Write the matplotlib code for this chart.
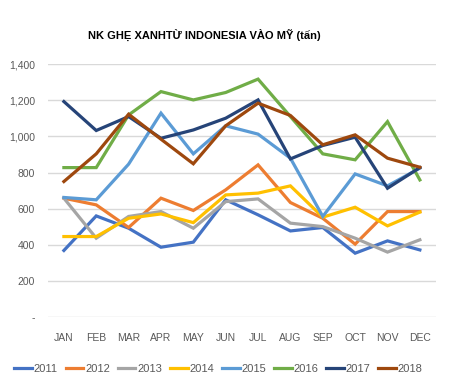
import matplotlib
matplotlib.use("Agg")
import matplotlib.pyplot as plt
from matplotlib.ticker import FuncFormatter

months = ["JAN", "FEB", "MAR", "APR", "MAY", "JUN", "JUL", "AUG", "SEP", "OCT", "NOV", "DEC"]
y2011 = [370, 561, 493, 388, 416, 650, 567, 478, 497, 355, 423, 373]
y2012 = [659, 622, 497, 659, 591, 705, 843, 635, 548, 405, 585, 585]
y2013 = [659, 438, 558, 585, 493, 640, 655, 521, 502, 438, 361, 429]
y2014 = [447, 447, 548, 572, 524, 677, 687, 727, 554, 609, 506, 582]
y2015 = [663, 650, 847, 1129, 904, 1059, 1013, 880, 558, 793, 727, 825]
y2016 = [828, 828, 1119, 1248, 1202, 1243, 1317, 1110, 904, 871, 1082, 760]
y2017 = [1193, 1033, 1110, 990, 1036, 1101, 1202, 876, 950, 996, 714, 828]
y2018 = [751, 904, 1123, 985, 849, 1059, 1184, 1116, 954, 1009, 880, 830]

series = [("2011", y2011, "#4472C4"), ("2012", y2012, "#ED7D31"),
          ("2013", y2013, "#A5A5A5"), ("2014", y2014, "#FFC000"),
          ("2015", y2015, "#5B9BD5"), ("2016", y2016, "#70AD47"),
          ("2017", y2017, "#264478"), ("2018", y2018, "#9E480E")]

plt.rcParams['font.family'] = ['Liberation Sans', 'DejaVu Sans']

fig = plt.figure(figsize=(4.5, 3.77), dpi=100)
ax = fig.add_axes([0.106, 0.158, 0.863, 0.672])
x = list(range(len(months)))
for name, vals, col in series:
    ax.plot(x, vals, color=col, lw=2.3, label=name, solid_joinstyle='miter')

ax.set_xlim(-0.5, 11.5)
ax.set_ylim(0, 1400)
ax.set_yticks(range(0, 1401, 200))
ax.yaxis.set_major_formatter(FuncFormatter(lambda v, p: "-" if v == 0 else f"{int(v):,}"))
ax.set_xticks(x)
ax.set_xticklabels(months)
ax.grid(axis='y', color='#D9D9D9', lw=1)
ax.set_axisbelow(True)
for s in ax.spines.values():
    s.set_visible(False)
ax.tick_params(length=0, labelsize=7.5, colors='#595959', pad=9)
ax.tick_params(axis='x', pad=11)

fig.text(0.455, 0.907, "NK GHẸ XANHTỪ INDONESIA VÀO MỸ (tấn)", ha='center', va='center',
         fontsize=8, fontweight='bold', color='black')

fig.legend(loc='center', bbox_to_anchor=(0.485, 0.022), ncol=8, frameon=False,
           fontsize=8, handlelength=1.6, handletextpad=0.15, columnspacing=0.7,
           labelcolor='#595959')

fig.savefig("out.png", dpi=100)
